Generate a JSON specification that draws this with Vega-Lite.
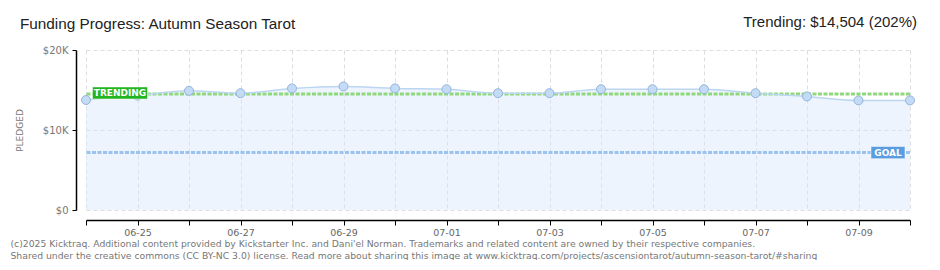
{
  "$schema": "https://vega.github.io/schema/vega-lite/v6.json",
  "autosize": "none",
  "padding": {"left": 86, "top": 50, "right": 30, "bottom": 50},
  "width": 824,
  "height": 160,
  "background": "white",
  "config": {
    "view": {"stroke": null},
    "axis": {"labelFont": "DejaVu Sans", "titleFont": "DejaVu Sans"}
  },
  "datasets": {
    "pledged": [
      {"date": "2025-06-24", "pledged": 13750},
      {"date": "2025-06-25", "pledged": 14300},
      {"date": "2025-06-26", "pledged": 14900},
      {"date": "2025-06-27", "pledged": 14600},
      {"date": "2025-06-28", "pledged": 15200},
      {"date": "2025-06-29", "pledged": 15450},
      {"date": "2025-06-30", "pledged": 15200},
      {"date": "2025-07-01", "pledged": 15100},
      {"date": "2025-07-02", "pledged": 14600},
      {"date": "2025-07-03", "pledged": 14600},
      {"date": "2025-07-04", "pledged": 15100},
      {"date": "2025-07-05", "pledged": 15100},
      {"date": "2025-07-06", "pledged": 15100},
      {"date": "2025-07-07", "pledged": 14600},
      {"date": "2025-07-08", "pledged": 14200},
      {"date": "2025-07-09", "pledged": 13700},
      {"date": "2025-07-10", "pledged": 13700}
    ],
    "refs": [
      {"kind": "TRENDING", "value": 14504, "date": "2025-06-24"},
      {"kind": "GOAL", "value": 7180, "date": "2025-07-10"}
    ],
    "headings": [
      {"date": "2025-06-24", "y": 20000, "label": "Funding Progress: Autumn Season Tarot", "side": "left"},
      {"date": "2025-07-10", "y": 20000, "label": "Trending: $14,504 (202%)", "side": "right"}
    ]
  },
  "layer": [
    {
      "data": {"name": "pledged"},
      "mark": {"type": "area", "color": "#d6e7fa", "opacity": 0.45, "interpolate": "monotone"},
      "encoding": {
        "x": {
          "field": "date",
          "type": "temporal",
          "scale": {"type": "utc", "domain": [{"year": 2025, "month": 6, "date": 24, "utc": true}, {"year": 2025, "month": 7, "date": 10, "utc": true}]},
          "axis": {
            "offset": 10,
            "tickCount": {"interval": "day", "step": 1},
            "labelExpr": "utcdate(datum.value) % 2 == 1 ? utcFormat(datum.value, '%m-%d') : ''",
            "labelFontSize": 9.5,
            "labelColor": "#666",
            "labelPadding": 2,
            "labelFlush": false,
            "labelOverlap": false,
            "tickColor": "#000",
            "tickSize": 5,
            "domainColor": "#000",
            "domainWidth": 1.5,
            "grid": true,
            "gridColor": "#dddddd",
            "gridDash": [4, 3],
            "title": [
              "(c)2025 Kicktraq. Additional content provided by Kickstarter Inc. and Dani'el Norman. Trademarks and related content are owned by their respective companies.",
              "Shared under the creative commons (CC BY-NC 3.0) license. Read more about sharing this image at www.kicktraq.com/projects/ascensiontarot/autumn-season-tarot/#sharing"
            ],
            "titleFont": "DejaVu Sans",
            "titleFontSize": 9.25,
            "titleFontWeight": "normal",
            "titleColor": "#777",
            "titleAnchor": "start",
            "titleAlign": "left",
            "titleBaseline": "alphabetic",
            "titleLineHeight": 12.5,
            "titleX": -76,
            "titleY": 26
          }
        },
        "y": {
          "field": "pledged",
          "type": "quantitative",
          "scale": {"domain": [0, 20000], "nice": false},
          "axis": {
            "offset": 10,
            "values": [0, 2500, 5000, 7500, 10000, 12500, 15000, 17500, 20000],
            "labelExpr": "datum.value % 5000 ? '' : (datum.value == 0 ? '$0' : (datum.value == 5000 ? '$5,000' : '$' + datum.value / 1000 + 'K'))",
            "labelFontSize": 10,
            "labelColor": "#777",
            "labelPadding": 4,
            "tickSize": 4,
            "tickColor": {"condition": {"test": "datum.value % 5000", "value": "#e00000"}, "value": "#000"},
            "domainColor": "#000",
            "domainWidth": 1.5,
            "grid": true,
            "gridColor": "#dddddd",
            "gridDash": [4, 3],
            "gridOpacity": {"condition": {"test": "datum.value % 5000", "value": 0}, "value": 1},
            "title": "PLEDGED",
            "titleFont": "DejaVu Sans",
            "titleFontSize": 9,
            "titleFontWeight": "normal",
            "titleColor": "#777",
            "titlePadding": 18
          }
        }
      }
    },
    {
      "data": {"name": "refs"},
      "mark": {"type": "rule", "strokeWidth": 3, "strokeDash": [4, 1.5]},
      "encoding": {
        "y": {"field": "value", "type": "quantitative"},
        "color": {"field": "kind", "type": "nominal", "scale": {"domain": ["TRENDING", "GOAL"], "range": ["#8fd87c", "#9cc2ee"]}, "legend": null}
      }
    },
    {
      "data": {"name": "pledged"},
      "mark": {"type": "line", "color": "#bcd6f2", "strokeWidth": 1.5, "interpolate": "monotone"},
      "encoding": {
        "x": {"field": "date", "type": "temporal"},
        "y": {"field": "pledged", "type": "quantitative"}
      }
    },
    {
      "data": {"name": "pledged"},
      "mark": {"type": "point", "shape": "circle", "filled": true, "size": 80, "fill": "#c4dbf6", "stroke": "#92b3dc", "strokeWidth": 1, "opacity": 1},
      "encoding": {
        "x": {"field": "date", "type": "temporal"},
        "y": {"field": "pledged", "type": "quantitative"}
      }
    },
    {
      "data": {"name": "refs"},
      "transform": [{"filter": "datum.kind == 'TRENDING'"}],
      "layer": [
        {
          "mark": {"type": "point", "shape": "M-1,-0.22H1V0.22H-1Z", "size": 3025, "filled": true, "fill": "#22b522", "stroke": "#ffffff", "strokeWidth": 0.5, "opacity": 1, "xOffset": 34, "yOffset": -1},
          "encoding": {
            "x": {"field": "date", "type": "temporal"},
            "y": {"field": "value", "type": "quantitative"}
          }
        },
        {
          "mark": {"type": "text", "text": "TRENDING", "color": "white", "font": "DejaVu Sans", "fontSize": 9, "fontWeight": "bold", "align": "center", "baseline": "middle", "dx": 34, "dy": -1},
          "encoding": {
            "x": {"field": "date", "type": "temporal"},
            "y": {"field": "value", "type": "quantitative"}
          }
        }
      ]
    },
    {
      "data": {"name": "refs"},
      "transform": [{"filter": "datum.kind == 'GOAL'"}],
      "layer": [
        {
          "mark": {"type": "point", "shape": "M-1,-0.36H1V0.36H-1Z", "size": 1156, "filled": true, "fill": "#5b9be0", "stroke": "#ffffff", "strokeWidth": 0.5, "opacity": 1, "xOffset": -22},
          "encoding": {
            "x": {"field": "date", "type": "temporal"},
            "y": {"field": "value", "type": "quantitative"}
          }
        },
        {
          "mark": {"type": "text", "text": "GOAL", "color": "white", "font": "DejaVu Sans", "fontSize": 9, "fontWeight": "bold", "align": "center", "baseline": "middle", "dx": -22},
          "encoding": {
            "x": {"field": "date", "type": "temporal"},
            "y": {"field": "value", "type": "quantitative"}
          }
        }
      ]
    },
    {
      "data": {"name": "headings"},
      "transform": [{"filter": "datum.side == 'left'"}],
      "mark": {"type": "text", "align": "left", "baseline": "alphabetic", "font": "Liberation Sans", "fontSize": 15.3, "color": "#222", "dx": -66, "dy": -21},
      "encoding": {
        "x": {"field": "date", "type": "temporal"},
        "y": {"field": "y", "type": "quantitative"},
        "text": {"field": "label"}
      }
    },
    {
      "data": {"name": "headings"},
      "transform": [{"filter": "datum.side == 'right'"}],
      "mark": {"type": "text", "align": "right", "baseline": "alphabetic", "font": "Liberation Sans", "fontSize": 15, "color": "#222", "dx": 7, "dy": -23},
      "encoding": {
        "x": {"field": "date", "type": "temporal"},
        "y": {"field": "y", "type": "quantitative"},
        "text": {"field": "label"}
      }
    }
  ]
}
